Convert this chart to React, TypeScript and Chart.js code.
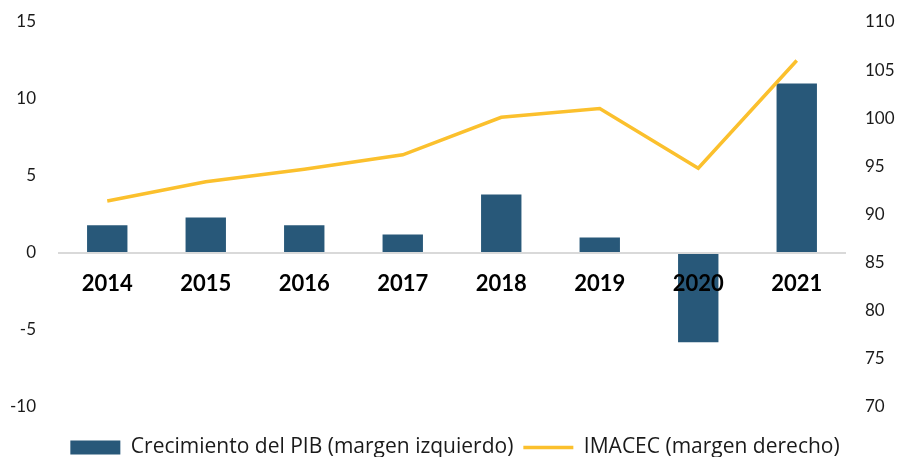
import React, { useEffect, useRef } from "react";
import { Chart, registerables } from "chart.js";

Chart.register(...registerables);

const categories = ["2014", "2015", "2016", "2017", "2018", "2019", "2020", "2021"];
const pibGrowth = [1.8, 2.3, 1.8, 1.2, 3.8, 1.0, -5.8, 11.0];
const imacec = [91.4, 93.4, 94.7, 96.2, 100.1, 101.0, 94.8, 106.0];
const leftTicks = { min: -10, max: 15, step: 5 };
const rightTicks = { min: 70, max: 110, step: 5 };
const seriesLabels = ["Crecimiento del PIB (margen izquierdo)", "IMACEC (margen derecho)"];

const BAR_COLOR = "#285879";
const LINE_COLOR = "#FBC02D";
const FONT = "Lato";
const LEGEND_FONT = "'Open Sans'";

export default function App() {
  const ref = useRef<HTMLCanvasElement | null>(null);

  useEffect(() => {
    document.body.style.margin = "0";
    const canvas = ref.current;
    if (!canvas) return;
    const chart = new Chart(canvas, {
      type: "bar",
      data: {
        labels: categories,
        datasets: [
          {
            type: "bar",
            label: seriesLabels[0],
            data: pibGrowth,
            backgroundColor: BAR_COLOR,
            borderWidth: 0,
            categoryPercentage: 1,
            barPercentage: 0.41,
            yAxisID: "y",
            order: 1,
          },
          {
            type: "line",
            label: seriesLabels[1],
            data: imacec,
            borderColor: LINE_COLOR,
            backgroundColor: LINE_COLOR,
            borderWidth: 3.5,
            pointRadius: 0,
            tension: 0,
            yAxisID: "y1",
            order: 0,
          },
        ],
      },
      options: {
        animation: false,
        responsive: false,
        layout: { padding: { top: 22, left: 8, right: 0, bottom: 0 } },
        plugins: {
          tooltip: { enabled: false },
          legend: {
            position: "bottom",
            labels: {
              usePointStyle: true,
              pointStyleWidth: 50,
              boxHeight: 14,
              padding: 10,
              color: "#1a1a1a",
              font: { family: LEGEND_FONT, size: 21 },
              generateLabels: (c: any) => {
                const items = Chart.defaults.plugins.legend.labels.generateLabels(c);
                items.sort((a: any, b: any) => a.datasetIndex - b.datasetIndex);
                items.forEach((it: any) => {
                  it.pointStyle = it.datasetIndex === 0 ? "rect" : "line";
                });
                return items;
              },
            },
          },
        },
        scales: {
          x: {
            position: { y: 0 } as any,
            grid: { display: false, drawTicks: false },
            border: { display: false },
            ticks: {
              z: 1,
              color: "#000",
              padding: 18,
              font: { family: FONT, size: 22, weight: "bold" },
              maxRotation: 0,
            },
          },
          xSpacer: {
            type: "category",
            position: "bottom",
            grid: { display: false, drawTicks: false },
            border: { display: false },
            ticks: { display: false },
            afterFit: (s: any) => {
              s.height = 20;
            },
          },
          y: {
            position: "left",
            min: leftTicks.min,
            max: leftTicks.max,
            ticks: {
              stepSize: leftTicks.step,
              color: "#1a1a1a",
              padding: 22,
              font: { family: FONT, size: 17 },
            },
            grid: {
              drawTicks: false,
              color: (ctx: any) => (ctx.tick && ctx.tick.value === 0 ? "#d9d9d9" : "rgba(0,0,0,0)"),
              lineWidth: 2,
            },
            border: { display: false },
            afterFit: (s: any) => {
              s.width = 50;
              s.paddingTop = 0;
              s.paddingBottom = 0;
            },
          },
          y1: {
            position: "right",
            min: rightTicks.min,
            max: rightTicks.max,
            ticks: {
              stepSize: rightTicks.step,
              color: "#1a1a1a",
              padding: 19,
              font: { family: FONT, size: 17 },
            },
            grid: { display: false, drawTicks: false },
            border: { display: false },
            afterFit: (s: any) => {
              s.width = 56;
              s.paddingTop = 0;
              s.paddingBottom = 0;
            },
          },
        },
      },
    });
    return () => chart.destroy();
  }, []);

  return (
    <div style={{ width: 902, height: 457, overflow: "hidden", background: "#fff" }}>
      <canvas ref={ref} width={902} height={468} style={{ display: "block" }} />
    </div>
  );
}
